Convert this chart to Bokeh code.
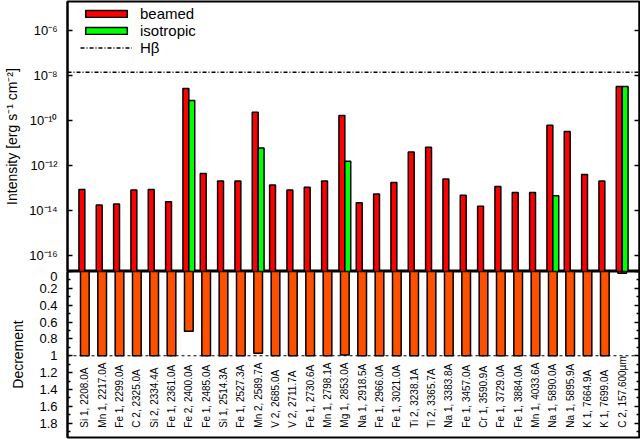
import math
from bokeh.plotting import figure
from bokeh.models import (Range1d, FixedTicker, LogAxis, LinearAxis, Span, Legend,
                          LegendItem, ColumnDataSource, Label)
from bokeh.layouts import column
from bokeh.embed import file_html
from bokeh.resources import INLINE
from bokeh.core.properties import value

# ---------------- data ----------------
labels = ["Si 1, 2208.0A", "Mn 1, 2217.0A", "Fe 1, 2299.0A", "C 2, 2325.0A", "Si 2, 2334.4A",
          "Fe 1, 2361.0A", "Fe 2, 2400.0A", "Fe 1, 2485.0A", "Si 1, 2514.3A", "Fe 1, 2527.3A",
          "Mn 2, 2589.7A", "V 2, 2685.0A", "V 2, 2711.7A", "Fe 1, 2730.6A", "Mn 1, 2798.1A",
          "Mg 1, 2853.0A", "Na 1, 2918.5A", "Fe 1, 2966.0A", "Fe 1, 3021.0A", "Ti 2, 3238.1A",
          "Ti 2, 3365.7A", "Na 1, 3383.8A", "Fe 1, 3457.0A", "Cr 1, 3590.9A", "Fe 1, 3729.0A",
          "Fe 1, 3884.0A", "Mn 1, 4033.6A", "Na 1, 5890.0A", "Na 1, 5895.9A", "K 1, 7664.9A",
          "K 1, 7699.0A", "C 2, 157.600\u00b5m"]

beamed = [8.9e-14, 1.8e-14, 2.0e-14, 8.3e-14, 8.9e-14,
          2.5e-14, 2.7e-9, 4.5e-13, 2.1e-13, 2.1e-13,
          2.4e-10, 1.4e-13, 8.3e-14, 1.1e-13, 2.1e-13,
          1.7e-10, 2.3e-14, 5.5e-14, 1.8e-13, 4.1e-12,
          6.6e-12, 2.6e-13, 4.9e-14, 1.6e-14, 1.2e-13,
          6.5e-14, 6.5e-14, 6.3e-11, 3.3e-11, 4.1e-13,
          2.1e-13, 3.3e-9]

isotropic = [None, None, None, None, None,
             None, 8.0e-10, None, None, None,
             6.2e-12, None, None, None, None,
             1.6e-12, None, None, None, None,
             None, None, None, None, None,
             None, None, 4.6e-14, None, None,
             None, 3.3e-9]

decrement = [1.0, 1.0, 1.0, 1.0, 1.0,
             1.0, 0.71, 1.0, 1.0, 1.0,
             0.97, 1.0, 1.0, 1.0, 1.0,
             0.99, 1.0, 1.0, 1.0, 1.0,
             1.0, 1.0, 1.0, 1.0, 1.0,
             1.0, 1.0, 1.0, 1.0, 1.0,
             1.0, 0.02]

hbeta = 1.44e-8

int_ticks = [1e-16, 1e-14, 1e-12, 1e-10, 1e-8, 1e-6]
int_tick_labels = ["10\u207b\u00b9\u2076", "10\u207b\u00b9\u2074", "10\u207b\u00b9\u00b2",
                   "10\u207b\u00b9\u2070", "10\u207b\u2078", "10\u207b\u2076"]
dec_ticks = [0.0, 0.2, 0.4, 0.6, 0.8, 1.0, 1.2, 1.4, 1.6, 1.8]
dec_minor = [0.1, 0.3, 0.5, 0.7, 0.9, 1.1, 1.3, 1.5, 1.7, 1.9]

FONT = "Liberation Sans"
RED = "#ff0000"
GREEN = "#00ff00"
ORANGE = "#ff5000"

# ---------------- sources ----------------
xs = list(range(len(labels)))
src = ColumnDataSource(dict(
    x=xs,
    xb=[i - 0.17 for i in xs],
    beamed=beamed,
    decrement=decrement,
    labels=labels,
))
iso_x = [i + 0.17 for i, v in zip(xs, isotropic) if v is not None]
iso_v = [v for v in isotropic if v is not None]
src_iso = ColumnDataSource(dict(x=iso_x, top=iso_v))

x_range = Range1d(-1, 32)


def style_frame(p):
    p.xaxis.visible = False
    p.grid.visible = False
    p.outline_line_color = "black"
    p.outline_line_width = 2
    p.background_fill_color = "white"
    p.border_fill_color = "white"


def style_left(ax, label, standoff):
    ax.major_tick_in = 5
    ax.major_tick_out = 0
    ax.minor_tick_out = 0
    ax.major_tick_line_width = 1.5
    ax.minor_tick_line_width = 1.5
    ax.axis_line_width = 2
    ax.major_label_standoff = 10
    ax.major_label_text_font = FONT
    ax.major_label_text_font_size = "13px"
    ax.major_label_text_color = "black"
    ax.axis_label = label
    ax.axis_label_text_font = FONT
    ax.axis_label_text_font_size = "14px"
    ax.axis_label_text_font_style = "normal"
    ax.axis_label_text_color = "black"
    ax.axis_label_standoff = standoff


def style_right(ax):
    ax.major_tick_in = 5
    ax.major_tick_out = 0
    ax.minor_tick_out = 0
    ax.major_tick_line_width = 1.5
    ax.minor_tick_line_width = 1.5
    ax.axis_line_width = 2
    ax.major_label_standoff = 0
    ax.major_label_text_font_size = "1px"
    ax.major_label_text_alpha = 0


# ---------------- top panel ----------------
p1 = figure(width=640, height=271, y_axis_type="log", x_range=x_range,
            y_range=Range1d(2e-17, 2e-5), output_backend="svg",
            toolbar_location=None, min_border_left=67, min_border_right=1,
            min_border_top=1, min_border_bottom=0)
style_frame(p1)

r_red = p1.vbar(x="xb", width=0.34, bottom=1e-17, top="beamed", source=src,
                fill_color=RED, line_color="black", line_width=1.5)
r_green = p1.vbar(x="x", width=0.34, bottom=1e-17, top="top", source=src_iso,
                  fill_color=GREEN, line_color="black", line_width=1.5)
r_hb = p1.line(x=[-1, 32], y=[hbeta, hbeta], line_color="black", line_width=1.5,
               line_dash="4 2 1 2")

ya = p1.yaxis[0]
ya.ticker = FixedTicker(ticks=int_ticks, minor_ticks=[])
ya.major_label_overrides = dict(zip(int_ticks, int_tick_labels))
ya.minor_tick_in = 0
style_left(ya, "Intensity [erg s\u207b\u00b9 cm\u207b\u00b2]", 6)

ra = LogAxis(ticker=FixedTicker(ticks=int_ticks, minor_ticks=[]), minor_tick_in=0,
             major_label_overrides={t: "" for t in int_ticks})
style_right(ra)
p1.add_layout(ra, "right")

# upper half of the shared "0" tick label (lower half is drawn by the bottom panel)
p1.add_layout(Label(x=-10, y=0, x_units="screen", y_units="screen", text="0",
                    text_align="right", text_baseline="middle", text_font=FONT,
                    text_font_size="13px", text_color="black"))

legend = Legend(items=[LegendItem(label="beamed", renderers=[r_red]),
                       LegendItem(label="isotropic", renderers=[r_green]),
                       LegendItem(label="H\u03b2", renderers=[r_hb])],
                location=(13, 215), glyph_width=52, glyph_height=9, label_height=16,
                label_standoff=8, spacing=-1, padding=0, margin=0,
                label_text_font=FONT, label_text_font_size="15px",
                label_text_color="black", background_fill_alpha=0,
                border_line_alpha=0)
p1.add_layout(legend)

# ---------------- bottom panel ----------------
p2 = figure(width=640, height=168, x_range=x_range, y_range=Range1d(1.97, 0),
            output_backend="svg", toolbar_location=None, min_border_left=67,
            min_border_right=1, min_border_top=0, min_border_bottom=2)
style_frame(p2)

p2.vbar(x="x", width=0.5, top=0, bottom="decrement", source=src,
        fill_color=ORANGE, line_color="black", line_width=1.5)
p2.add_layout(Span(location=1, dimension="width", line_color="black",
                   line_dash="3 3", line_width=1))
p2.text(x="x", y=1.853, text="labels", source=src, angle=math.pi / 2,
        text_align="left", text_baseline="middle", text_font=value(FONT),
        text_font_size="10px", text_color="black")

yb = p2.yaxis[0]
yb.ticker = FixedTicker(ticks=dec_ticks, minor_ticks=dec_minor)
yb.major_label_overrides = {t: f"{t:g}" for t in dec_ticks}
yb.minor_tick_in = 3
style_left(yb, "Decrement", 10)

rb = LinearAxis(ticker=FixedTicker(ticks=dec_ticks, minor_ticks=dec_minor), minor_tick_in=3,
                major_label_overrides={t: "" for t in dec_ticks})
style_right(rb)
p2.add_layout(rb, "right")

layout = column(p1, p2, spacing=0)
open("out.html", "w").write(file_html(layout, INLINE))
